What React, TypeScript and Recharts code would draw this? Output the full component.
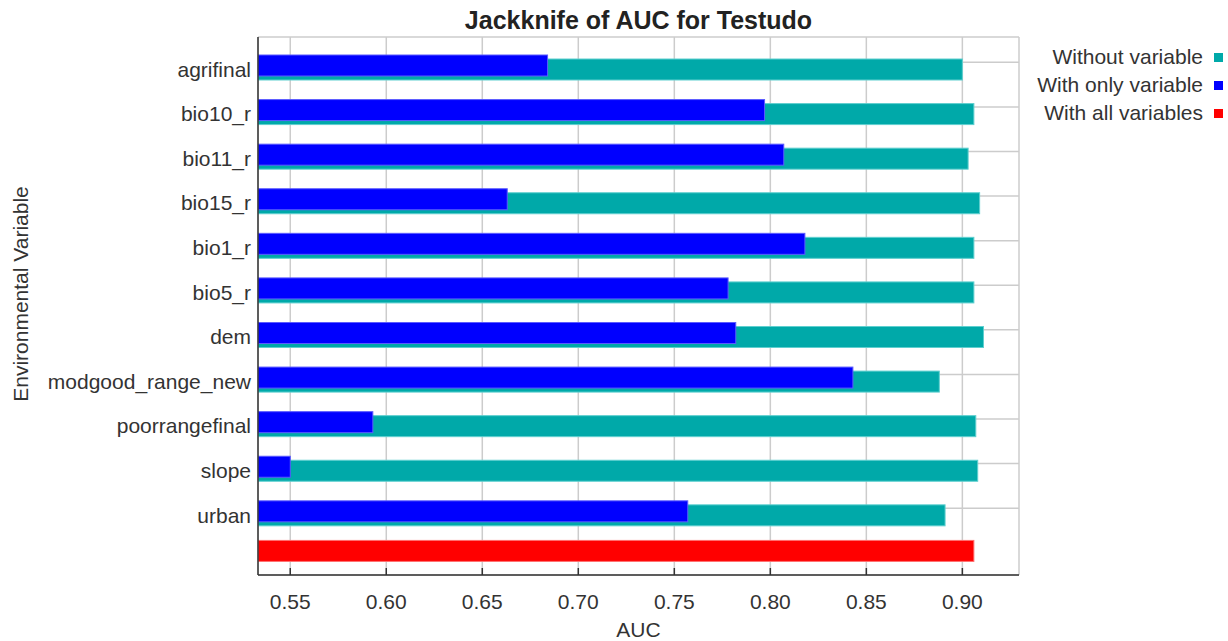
import React from 'react';
import { Bar, BarChart, CartesianGrid, Legend, XAxis, YAxis } from 'recharts';

const variables = [
  'agrifinal',
  'bio10_r',
  'bio11_r',
  'bio15_r',
  'bio1_r',
  'bio5_r',
  'dem',
  'modgood_range_new',
  'poorrangefinal',
  'slope',
  'urban',
];
const withoutVariable = [0.900, 0.906, 0.903, 0.909, 0.906, 0.906, 0.911, 0.888, 0.907, 0.908, 0.891];
const withOnlyVariable = [0.684, 0.797, 0.807, 0.663, 0.818, 0.778, 0.782, 0.843, 0.593, 0.550, 0.757];
const withAllVariables = 0.906;
const aucTicks = [0.55, 0.6, 0.65, 0.7, 0.75, 0.8, 0.85, 0.9];
const aucDomain = [0.5332, 0.9295];
const seriesNames = ['Without variable', 'With only variable', 'With all variables'];

const ALL = '__all__';
const FONT = '"Liberation Sans", Arial, sans-serif';
const TEXT = '#333333';
const FRAME = '#333333';

const data = [
  ...variables.map((name, i) => ({ name, without: withoutVariable[i], only: withOnlyVariable[i] })),
  { name: ALL, all: withAllVariables },
];

// bars are nudged a few px inside their band, the blue one sits slightly above the teal one
const shifted = (dy: number) => (p: any) => {
  if (!p.width || p.width <= 0) return null;
  return <rect x={p.x} y={p.y + dy} width={p.width} height={p.height} fill={p.fill} stroke={p.stroke} strokeWidth={1} />;
};

const CategoryTick = ({ x, y, payload }: any) => {
  if (payload.value === ALL) return null;
  return (
    <text x={x} y={y} dy={14.4} textAnchor="end" fill={TEXT} fontSize={21} fontFamily={FONT}>
      {payload.value}
    </text>
  );
};

const RightTick = ({ x, y, payload }: any) => {
  if (payload.value === ALL) return null;
  return <line x1={x - 7} y1={y} x2={x} y2={y} stroke={FRAME} strokeWidth={1.5} />;
};

const YTitle = ({ viewBox }: any) => {
  const cx = viewBox.x + 20;
  const cy = viewBox.y + viewBox.height / 2 - 12;
  return (
    <text x={cx} y={cy} transform={`rotate(-90 ${cx} ${cy})`} textAnchor="middle" dominantBaseline="central" fill={TEXT} fontSize={21} fontFamily={FONT}>
      Environmental Variable
    </text>
  );
};

const LegendBox = ({ payload }: any) => {
  const items = [...(payload || [])].sort(
    (a: any, b: any) => seriesNames.indexOf(a.value) - seriesNames.indexOf(b.value),
  );
  return (
    <div style={{ fontFamily: FONT, fontSize: 21, color: TEXT }}>
      {items.map((entry: any) => (
        <div key={entry.value} style={{ display: 'flex', justifyContent: 'flex-end', alignItems: 'center', height: 28 }}>
          <span>{entry.value}</span>
          <span style={{ display: 'inline-block', width: 9, height: 9, marginLeft: 11, background: entry.color }} />
        </div>
      ))}
    </div>
  );
};

const gridLine = (p: any) => {
  if (p.index === variables.length) return null;
  return <line key={p.key} x1={p.x1} y1={p.y1} x2={p.x2} y2={p.y2} stroke="#cccccc" strokeWidth={1.5} />;
};

export default function App() {
  return (
    <div style={{ position: 'absolute', left: 0, top: 0, width: 1228, height: 641, background: '#fff' }}>
      <div
        style={{
          position: 'absolute', top: 5, left: 258, width: 761, textAlign: 'center',
          fontFamily: FONT, fontWeight: 'bold', fontSize: 25, lineHeight: '30px', color: '#222',
        }}
      >
        Jackknife of AUC for Testudo
      </div>
      <BarChart
        width={1228}
        height={641}
        data={data}
        layout="vertical"
        margin={{ top: 37, right: 209, bottom: 0, left: 0 }}
        barGap={-21}
      >
        <CartesianGrid stroke="#cccccc" strokeWidth={1.5} horizontal={gridLine} />
        <XAxis
          type="number"
          domain={aucDomain}
          allowDataOverflow
          ticks={aucTicks}
          tickFormatter={(v: number) => v.toFixed(2)}
          height={66}
          tickSize={-7}
          tickMargin={26}
          axisLine={{ stroke: FRAME, strokeWidth: 1.5 }}
          tickLine={{ stroke: FRAME, strokeWidth: 1.5 }}
          tick={{ fill: TEXT, fontSize: 21, fontFamily: FONT }}
          label={{ value: 'AUC', position: 'insideBottom', offset: 4.5, fill: TEXT, fontSize: 21, fontFamily: FONT }}
        />
        <XAxis
          xAxisId="top"
          orientation="top"
          type="number"
          domain={aucDomain}
          allowDataOverflow
          ticks={aucTicks}
          height={0}
          tick={false}
          tickSize={-7}
          axisLine={{ stroke: FRAME, strokeWidth: 1.5 }}
          tickLine={{ stroke: FRAME, strokeWidth: 1.5 }}
        />
        <YAxis
          type="category"
          dataKey="name"
          width={258}
          padding={{ top: 3, bottom: 0 }}
          tickLine={false}
          tickSize={0}
          tickMargin={7}
          tick={<CategoryTick />}
          interval={0}
          axisLine={{ stroke: FRAME, strokeWidth: 1.5 }}
          label={{ content: <YTitle /> }}
        />
        <YAxis
          yAxisId="right"
          orientation="right"
          type="category"
          dataKey="name"
          width={0}
          padding={{ top: 3, bottom: 0 }}
          tickLine={false}
          tickSize={0}
          tickMargin={0}
          tick={<RightTick />}
          interval={0}
          axisLine={{ stroke: FRAME, strokeWidth: 1.5 }}
        />
        <Legend
          layout="horizontal"
          align="center"
          verticalAlign="middle"
          content={<LegendBox />}
          wrapperStyle={{ top: 43, right: 5, left: 'auto', width: 'auto', height: 'auto' }}
        />
        <Bar dataKey="without" name={seriesNames[0]} fill="#00a9a9" stroke="#5fcfcf" barSize={21} shape={shifted(7)} isAnimationActive={false} />
        <Bar dataKey="only" name={seriesNames[1]} fill="#0000ff" stroke="#5a5aff" barSize={21} shape={shifted(3)} isAnimationActive={false} />
        <Bar yAxisId="right" dataKey="all" name={seriesNames[2]} fill="#ff0000" stroke="#ff7070" barSize={21} shape={shifted(-2)} isAnimationActive={false} />
      </BarChart>
    </div>
  );
}
